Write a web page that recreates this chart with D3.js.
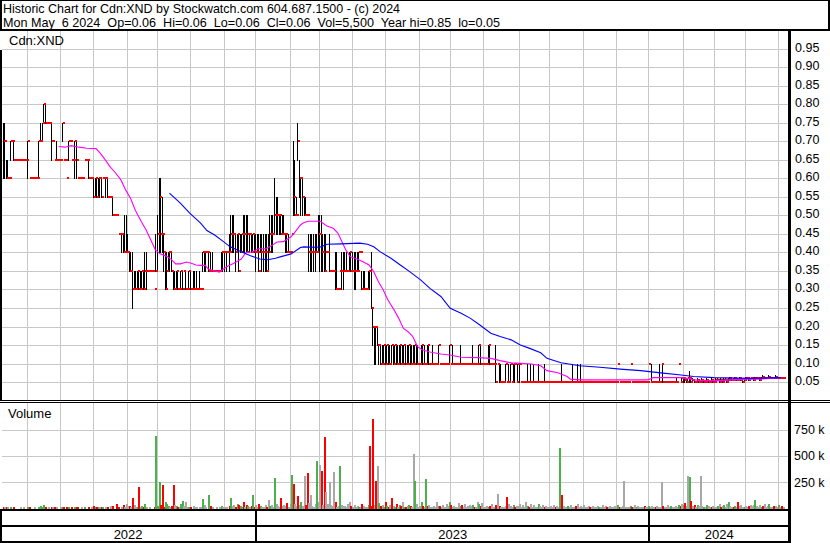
<!DOCTYPE html>
<html><head><meta charset="utf-8">
<script src="https://cdn.jsdelivr.net/npm/d3@7"></script>
<style>body{margin:0;background:#fff}svg{display:block;font-family:"Liberation Sans",Arial,sans-serif}text.pre{white-space:pre}</style>
</head><body><svg id="c" width="830" height="543"></svg>
<script>
const titleLine1 = "Historic Chart for Cdn:XND by Stockwatch.com 604.687.1500 - (c) 2024";
const titleLine2 = "Mon May  6 2024  Op=0.06  Hi=0.06  Lo=0.06  Cl=0.06  Vol=5,500  Year hi=0.85  lo=0.05";
const symbolLabel = "Cdn:XND";
const priceTicks = [0.05,0.10,0.15,0.20,0.25,0.30,0.35,0.40,0.45,0.50,0.55,0.60,0.65,0.70,0.75,0.80,0.85,0.90,0.95];
const volTicks = [250,500,750];
const years = ["2022","2023","2024"];
const yearStartIdx = [162,414];
const monthStartIdx = [16,37,58,80,99,120,142,162,184,203,224,245,267,287,308,331,350,372,393,414,436,456,476,497];

const high = [
.75,.75,.65,.65,.60,.70,.70,.70,.65,.65,
.65,.65,.65,.65,.65,.65,.70,.60,.60,.60,
.60,.60,.60,.70,.75,.75,.80,.80,.75,.75,
.75,.75,.70,.65,.70,.65,.65,.65,.75,.65,
.65,.60,.70,.70,.65,.65,.70,.70,.60,.60,
.60,.60,.65,.65,.65,.65,.60,.60,.60,.60,
.60,.60,.60,.60,.60,.60,.60,.60,.55,.55,
.55,.50,.50,.50,.45,.45,.45,.45,.50,.50,
.45,.40,.40,.40,.35,.35,.35,.35,.35,.35,
.35,.40,.40,.35,.35,.35,.35,.30,.45,.50,
.60,.60,.55,.45,.40,.40,.40,.40,.40,.35,
.35,.35,.35,.30,.35,.35,.35,.35,.30,.35,
.35,.30,.35,.35,.35,.30,.35,.30,.40,.40,
.40,.40,.40,.40,.40,.35,.35,.35,.35,.35,
.40,.40,.40,.40,.40,.45,.50,.50,.50,.45,
.45,.45,.45,.45,.50,.50,.50,.50,.45,.45,
.45,.45,.45,.45,.45,.45,.45,.45,.45,.45,
.45,.50,.50,.50,.60,.55,.55,.50,.50,.50,
.50,.45,.45,.45,.40,.45,.70,.65,.55,.75,
.65,.60,.60,.55,.55,.50,.45,.45,.45,.45,
.45,.45,.50,.50,.50,.45,.45,.45,.40,.45,
.35,.35,.35,.40,.40,.30,.35,.40,.40,.40,
.40,.35,.40,.40,.40,.40,.40,.40,.40,.40,
.35,.35,.35,.30,.35,.35,.40,.25,.20,.20,
.20,.15,.15,.15,.15,.15,.15,.15,.15,.15,
.15,.15,.15,.15,.15,.15,.15,.15,.15,.15,
.15,.15,.15,.15,.15,.15,.15,.10,.15,.15,
.15,.10,.15,.15,.10,.15,.10,.10,.10,.15,
.10,.10,.10,.10,.10,.10,.15,.10,.15,.10,
.10,.10,.10,.15,.10,.10,.10,.10,.10,.10,
.10,.15,.10,.10,.10,.15,.15,.10,.10,.10,
.10,.15,.15,.10,.10,.10,.15,.10,.10,.10,
.05,.05,.10,.05,.10,.10,.05,.10,.10,.05,
.10,.10,.05,.05,.05,.05,.10,.05,.10,.05,
.10,.05,.05,.10,.05,.05,.05,.10,.05,.05,
.05,.05,.05,.05,.05,.05,.05,.05,.10,.05,
.05,.05,.05,.05,.05,.10,.05,.05,.10,.05,
.10,.05,.05,.05,.05,.05,.05,.05,.05,.05,
.05,.05,.05,.05,.05,.05,.05,.05,.05,.05,
.05,.05,.05,.05,.10,.05,.05,.05,.05,.05,
.05,.05,.10,.05,.05,.05,.05,.05,.05,.05,
.05,.05,.05,.05,.10,.05,.10,.05,.05,.05,
.05,.10,.10,.10,.05,.05,.05,.05,.05,.05,
.05,.05,.06,.10,.05,.06,.065,.06,.055,.06,
.08,.06,.06,.055,.05,.06,.055,.05,.06,.055,
.055,.06,.055,.05,.06,.055,.05,.06,.06,.055,
.06,.055,.06,.06,.055,.06,.065,.06,.06,.065,
.06,.06,.065,.06,.055,.06,.065,.065,.06,.06,
.065,.06,.065,.065,.06,.06,.065,.07,.065,.06,
.065,.07,.065,.06,.065,.07,.065,.06,.065,.06,
.06];

const low = [
.60,.60,.60,.60,.60,.65,.70,.65,.65,.65,
.65,.65,.65,.65,.65,.65,.60,.60,.60,.60,
.60,.60,.60,.60,.70,.70,.75,.75,.75,.75,
.75,.65,.70,.65,.65,.65,.65,.65,.70,.65,
.65,.60,.65,.70,.65,.65,.60,.60,.60,.60,
.60,.60,.65,.65,.65,.60,.60,.60,.55,.55,
.55,.55,.55,.55,.60,.60,.55,.55,.55,.55,
.50,.50,.50,.50,.45,.45,.40,.40,.40,.40,
.40,.35,.35,.25,.30,.30,.30,.30,.30,.30,
.30,.30,.30,.35,.35,.35,.35,.30,.35,.35,
.40,.40,.40,.35,.30,.30,.35,.35,.35,.30,
.30,.30,.30,.30,.30,.30,.35,.30,.30,.30,
.30,.30,.30,.30,.30,.30,.30,.30,.35,.35,
.35,.40,.35,.35,.35,.35,.35,.35,.35,.35,
.35,.35,.35,.35,.40,.35,.40,.40,.40,.35,
.40,.35,.40,.40,.40,.40,.40,.40,.40,.40,
.40,.40,.35,.40,.35,.40,.35,.35,.35,.35,
.35,.40,.40,.40,.45,.45,.45,.45,.45,.45,
.45,.40,.40,.40,.40,.45,.50,.50,.50,.65,
.55,.50,.50,.50,.50,.50,.35,.35,.35,.35,
.35,.40,.40,.35,.35,.35,.35,.35,.40,.35,
.35,.35,.35,.30,.30,.30,.35,.30,.30,.35,
.35,.35,.35,.35,.35,.30,.30,.35,.35,.40,
.30,.30,.30,.30,.30,.30,.25,.15,.10,.10,
.15,.10,.10,.10,.10,.10,.10,.10,.10,.10,
.10,.10,.10,.10,.10,.10,.10,.10,.10,.10,
.10,.10,.10,.10,.10,.10,.10,.10,.10,.10,
.10,.10,.10,.10,.10,.10,.10,.10,.10,.10,
.10,.10,.10,.10,.10,.10,.10,.10,.10,.10,
.10,.10,.10,.10,.10,.10,.10,.10,.10,.10,
.10,.10,.10,.10,.10,.10,.10,.10,.10,.10,
.10,.10,.10,.10,.10,.10,.05,.10,.05,.05,
.05,.05,.05,.05,.05,.05,.05,.05,.05,.05,
.05,.05,.05,.05,.05,.05,.05,.05,.05,.05,
.05,.05,.05,.05,.05,.05,.05,.05,.05,.05,
.05,.05,.05,.05,.05,.05,.05,.05,.05,.05,
.05,.05,.05,.05,.05,.05,.05,.05,.05,.05,
.05,.05,.05,.05,.05,.05,.05,.05,.05,.05,
.05,.05,.05,.05,.05,.05,.05,.05,.05,.05,
.05,.05,.05,.05,.10,.05,.05,.05,.05,.05,
.05,.05,.10,.05,.05,.05,.05,.05,.05,.05,
.05,.05,.05,.05,.10,.05,.05,.05,.05,.05,
.05,.05,.10,.05,.05,.05,.05,.05,.05,.05,
.05,.05,.05,.10,.05,.05,.05,.05,.05,.055,
.05,.05,.05,.05,.05,.05,.05,.05,.05,.05,
.05,.05,.05,.05,.05,.05,.05,.05,.055,.05,
.05,.05,.055,.055,.05,.055,.055,.055,.055,.055,
.055,.055,.055,.055,.05,.055,.055,.06,.055,.06,
.06,.055,.055,.06,.06,.055,.06,.06,.06,.06,
.06,.06,.06,.06,.06,.06,.06,.06,.06,.06,
.06];

const close = [
.70,.70,.60,.60,.60,.70,.70,.65,.65,.65,
.65,.65,.65,.65,.65,.65,.70,.60,.60,.60,
.60,.60,.60,.70,.70,.75,.80,.75,.75,.75,
.75,.70,.70,.65,.65,.65,.65,.65,.75,.65,
.65,.60,.70,.70,.65,.65,.70,.65,.60,.60,
.60,.60,.65,.65,.65,.60,.60,.60,.55,.60,
.55,.60,.60,.55,.60,.60,.60,.55,.55,.55,
.50,.50,.50,.50,.45,.45,.45,.40,.40,.40,
.40,.35,.35,.30,.30,.30,.35,.30,.30,.35,
.30,.35,.35,.35,.35,.35,.35,.30,.35,.45,
.55,.45,.45,.40,.30,.35,.40,.40,.35,.30,
.30,.35,.30,.30,.35,.30,.35,.30,.30,.35,
.30,.30,.30,.30,.30,.30,.30,.30,.40,.40,
.40,.40,.35,.35,.35,.35,.35,.35,.35,.35,
.40,.40,.40,.40,.40,.40,.45,.45,.45,.40,
.45,.35,.40,.45,.45,.45,.40,.45,.45,.40,
.45,.40,.40,.40,.35,.40,.40,.40,.40,.35,
.40,.45,.45,.45,.50,.50,.50,.50,.45,.45,
.45,.45,.40,.40,.40,.45,.55,.50,.50,.70,
.60,.60,.55,.50,.50,.50,.40,.40,.40,.40,
.40,.40,.45,.45,.40,.40,.35,.40,.40,.35,
.35,.35,.35,.30,.30,.30,.35,.35,.35,.35,
.35,.35,.40,.35,.35,.35,.35,.35,.40,.40,
.30,.30,.30,.30,.35,.35,.25,.20,.20,.20,
.15,.15,.10,.10,.15,.10,.15,.10,.10,.15,
.10,.15,.10,.10,.15,.10,.10,.15,.10,.10,
.15,.10,.10,.10,.15,.10,.10,.10,.15,.10,
.10,.10,.15,.10,.10,.10,.10,.10,.10,.15,
.10,.10,.10,.10,.10,.10,.15,.10,.10,.10,
.10,.10,.10,.10,.10,.10,.10,.10,.10,.10,
.10,.10,.10,.10,.10,.15,.10,.10,.10,.10,
.10,.15,.10,.10,.10,.10,.05,.10,.05,.05,
.05,.05,.10,.05,.05,.10,.05,.10,.10,.05,
.10,.10,.05,.05,.05,.05,.05,.05,.05,.05,
.05,.05,.05,.05,.05,.05,.05,.05,.05,.05,
.05,.05,.05,.05,.05,.05,.05,.05,.05,.05,
.05,.05,.05,.05,.05,.05,.05,.05,.05,.05,
.05,.05,.05,.05,.05,.05,.05,.05,.05,.05,
.05,.05,.05,.05,.05,.05,.05,.05,.05,.05,
.05,.05,.05,.05,.10,.05,.05,.05,.05,.05,
.05,.05,.10,.05,.05,.05,.05,.05,.05,.05,
.05,.05,.05,.05,.10,.05,.05,.05,.05,.05,
.05,.05,.10,.05,.05,.05,.05,.05,.05,.05,
.05,.05,.05,.10,.05,.06,.06,.055,.05,.06,
.06,.05,.055,.05,.05,.055,.05,.05,.055,.05,
.05,.055,.05,.05,.055,.05,.05,.055,.055,.05,
.055,.05,.055,.055,.05,.055,.06,.055,.055,.06,
.055,.055,.06,.055,.05,.055,.06,.06,.055,.06,
.06,.055,.06,.06,.06,.055,.06,.065,.06,.06,
.06,.065,.06,.06,.06,.065,.06,.06,.06,.06,
.06];

// daily volume, thousands of shares
const volume = [
5,3,8,2,0,4,0,6,0,0,
0,3,0,2,0,0,12,4,0,0,
2,0,0,15,25,18,30,14,0,6,
0,10,3,8,6,0,0,4,12,5,
0,8,15,0,6,0,10,12,9,0,
3,0,5,0,0,12,0,2,25,8,
14,10,3,10,6,0,4,8,0,20,
22,0,0,45,10,0,8,30,12,40,
20,25,15,98,30,10,14,202,8,20,
12,40,10,0,6,0,0,15,684,20,
250,30,220,15,60,40,20,10,25,220,
30,20,10,15,40,75,20,60,8,15,
10,0,20,15,8,0,12,10,90,30,
15,0,126,20,10,0,0,5,0,8,
20,10,15,5,0,25,100,20,30,10,
40,30,20,15,60,10,30,20,15,20,
126,15,30,10,40,20,15,8,30,10,
80,25,30,10,290,40,20,15,100,25,
30,20,50,15,40,316,230,40,20,120,
30,60,20,310,30,335,50,130,20,15,
40,449,60,411,354,30,677,158,40,253,
30,20,348,60,15,20,405,30,25,20,
15,40,60,20,10,30,15,25,10,8,
40,20,15,10,30,592,20,848,30,259,
402,50,20,30,15,60,20,10,30,100,
20,15,40,10,30,20,60,15,10,20,
30,20,15,513,259,40,10,25,60,20,
15,278,20,30,10,15,20,10,60,25,
20,10,30,15,40,20,60,30,10,25,
10,15,50,20,30,10,40,15,20,30,
20,30,15,10,60,40,20,50,15,10,
25,15,20,40,10,15,30,140,20,10,
15,10,20,110,40,20,10,30,15,20,
20,40,15,30,10,60,20,15,40,10,
30,15,10,40,20,15,30,10,20,15,
10,20,15,30,10,20,15,575,130,20,
15,10,20,10,30,15,10,20,40,10,
20,10,30,15,10,20,15,10,25,10,
10,20,15,10,30,10,20,15,10,25,
10,15,20,10,30,15,10,20,260,10,
15,10,20,10,15,30,10,20,10,15,
10,20,15,10,25,10,20,15,10,20,
15,10,250,20,10,15,30,10,20,15,
10,20,15,30,20,40,30,50,20,310,
300,70,20,30,15,30,20,310,20,15,
10,30,20,15,10,20,10,15,20,40,
10,20,30,15,40,60,20,10,15,20,
15,60,20,30,10,15,20,10,25,30,
20,30,80,20,10,30,15,20,40,15,
20,40,15,10,25,20,10,30,15,20,
6];

// day's direction: 1 up, -1 down, 0 unchanged
const volDir = [
-1,0,-1,0,0,1,0,-1,0,0,
0,0,0,0,0,0,1,-1,0,0,
0,0,0,1,1,1,1,-1,0,0,
0,-1,0,-1,0,0,0,0,1,-1,
0,-1,1,0,-1,0,1,-1,-1,0,
0,0,1,0,0,-1,0,0,-1,1,
-1,1,0,-1,1,0,0,-1,0,0,
-1,0,0,-1,-1,0,0,-1,0,0,
0,-1,0,-1,0,0,1,-1,0,1,
-1,1,0,0,0,0,0,-1,1,1,
1,-1,-1,-1,1,1,1,0,-1,-1,
0,1,-1,0,1,1,0,0,0,1,
-1,0,0,0,0,0,0,0,1,0,
0,0,1,-1,0,0,0,0,0,0,
1,0,0,0,0,-1,1,0,0,-1,
1,-1,1,1,-1,0,-1,1,0,-1,
1,-1,0,0,-1,1,0,0,0,-1,
0,1,0,0,1,0,0,0,-1,0,
0,0,-1,0,0,1,-1,0,0,-1,
0,1,0,0,-1,-1,0,0,0,0,
0,1,0,0,-1,0,-1,0,0,0,
0,0,0,-1,0,0,1,0,0,0,
0,0,0,-1,0,0,0,0,1,0,
-1,0,0,0,1,-1,-1,-1,0,-1,
0,1,-1,0,1,-1,1,-1,0,-1,
0,1,-1,0,1,-1,0,1,-1,0,
1,-1,0,0,1,0,0,0,1,-1,
0,1,-1,0,0,0,0,0,0,1,
-1,0,0,0,0,0,1,-1,0,0,
0,0,0,1,-1,0,0,0,0,0,
0,1,-1,0,0,1,-1,0,0,0,
0,1,-1,0,0,0,-1,0,-1,0,
0,0,0,-1,0,0,0,1,-1,0,
0,0,0,0,0,0,1,-1,0,0,
0,0,0,1,0,0,0,-1,0,0,
0,0,0,0,-1,0,0,1,-1,0,
0,0,1,0,0,0,0,-1,0,0,
0,0,0,0,0,0,-1,0,0,0,
0,0,1,0,0,0,0,-1,0,0,
0,0,0,0,1,-1,0,0,0,0,
0,0,1,-1,0,0,1,0,0,0,
0,-1,0,0,1,0,0,0,-1,0,
0,0,0,-1,0,0,0,0,1,0,
0,0,0,1,-1,0,1,-1,0,0,
1,-1,0,-1,0,1,0,0,0,1,
0,1,0,0,-1,0,0,0,1,0,
-1,0,1,0,0,1,0,0,-1,1,
0,-1,0,0,0,1,0,0,-1,0,
0,0,1,0,0,0,1,-1,0,0,
0,1,0,0,-1,0,0,1,0,-1,
0];

// moving averages (day index, price)
const maShortIdx = [36,40,44,49,54,60,63,66,69,72,76,79,82,85,89,92,95,98,101,105,108,111,114,118,121,124,127,130,132,136,139,141,144,148,153,156,160,164,169,172,176,180,185,187,191,193,196,204,205,208,212,215,217,220,223,228,231,235,238,241,244,247,251,254,257,260,263,266,269,274,281,287,294,305,313,319,326,332,339,345,349,356,362,364,371,413,415,417,435,439,443,452,460,467,477,484,492,499];
const maShortVal = [.686,.684,.688,.684,.681,.680,.666,.649,.631,.617,.595,.568,.547,.515,.483,.461,.434,.407,.396,.390,.382,.369,.369,.374,.371,.366,.365,.365,.355,.350,.347,.353,.362,.370,.382,.399,.401,.410,.410,.417,.428,.429,.442,.452,.474,.480,.484,.484,.480,.471,.465,.452,.434,.407,.388,.381,.375,.366,.348,.321,.299,.272,.245,.222,.195,.186,.173,.146,.137,.131,.126,.123,.117,.116,.114,.108,.102,.101,.099,.094,.081,.075,.065,.058,.056,.056,.058,.062,.062,.060,.056,.054,.054,.056,.058,.058,.060,.062];
const maLongIdx = [107,114,120,127,131,136,141,146,153,159,165,170,175,178,185,191,193,201,204,208,217,229,234,238,242,249,255,261,268,274,281,287,294,300,306,313,319,326,332,338,345,349,358,370,383,396,409,422,435,443,456,478,499];
const maLongVal = [.560,.533,.506,.479,.459,.447,.431,.415,.402,.391,.382,.380,.384,.388,.396,.413,.415,.414,.415,.422,.423,.425,.422,.415,.402,.384,.366,.348,.326,.303,.281,.249,.236,.222,.204,.182,.173,.164,.150,.141,.129,.114,.102,.094,.090,.085,.081,.075,.069,.065,.062,.060,.062];

// ---------- layout ----------
const PL = 2, PR = 788, PT = 31, PB = 399.5, VT = 403, VB = 509;
const svg = d3.select("#c");
const x = d3.scaleLinear().domain([0, 500]).range([2.5, 782.5]);
const y = d3.scaleLinear().domain([0.05, 0.95]).range([382.1, 48.6]);
const yv = d3.scaleLinear().domain([0, 750]).range([508.5, 429.5]);
const px = v => Math.round(v) + 0.5;

svg.append("rect").attr("width", 830).attr("height", 543).attr("fill", "#fff");

// grid
const grid = svg.append("g").attr("stroke", "#c8c8c8").attr("stroke-width", 1).attr("shape-rendering", "crispEdges");
priceTicks.forEach(p => grid.append("line").attr("x1", PL).attr("x2", PR).attr("y1", px(y(p))).attr("y2", px(y(p))));
volTicks.forEach(v => grid.append("line").attr("x1", PL).attr("x2", PR).attr("y1", px(yv(v))).attr("y2", px(yv(v))));
monthStartIdx.forEach(i => {
  grid.append("line").attr("x1", px(x(i))).attr("x2", px(x(i))).attr("y1", PT).attr("y2", PB);
  grid.append("line").attr("x1", px(x(i))).attr("x2", px(x(i))).attr("y1", VT).attr("y2", VB);
});

// price bars
const idx = d3.range(close.length);
svg.append("g").selectAll("line").data(idx.filter(i => high[i] > low[i])).join("line")
  .attr("x1", i => px(x(i))).attr("x2", i => px(x(i)))
  .attr("y1", i => Math.round(y(high[i]))).attr("y2", i => Math.round(y(low[i])) + 1)
  .attr("stroke", "#000").attr("stroke-width", 1).attr("shape-rendering", "crispEdges");
svg.append("g").selectAll("rect").data(idx).join("rect")
  .attr("x", i => Math.round(x(i)) + 1).attr("width", 2)
  .attr("y", i => Math.round(y(close[i])) - 1).attr("height", 2)
  .attr("fill", "#ff0000").attr("shape-rendering", "crispEdges");

// moving averages
const lineGen = d3.line().x(d => x(d[0])).y(d => y(d[1]));
svg.append("path").datum(maShortIdx.map((d, k) => [d, maShortVal[k]])).attr("d", lineGen)
  .attr("fill", "none").attr("stroke", "#ff00ff").attr("stroke-width", 1.1);
svg.append("path").datum(maLongIdx.map((d, k) => [d, maLongVal[k]])).attr("d", lineGen)
  .attr("fill", "none").attr("stroke", "#0000ff").attr("stroke-width", 1.1);

// volume bars
const volColor = d => d > 0 ? "#4cb04c" : d < 0 ? "#ff0000" : "#a8a8a8";
svg.append("g").selectAll("rect").data(idx.filter(i => volume[i] > 0)).join("rect")
  .attr("x", i => Math.round(x(i))).attr("width", 2)
  .attr("y", i => Math.min(Math.round(yv(volume[i])), 507))
  .attr("height", i => 509 - Math.min(Math.round(yv(volume[i])), 507))
  .attr("fill", i => volColor(volDir[i])).attr("shape-rendering", "crispEdges");

// frames
const blk = svg.append("g").attr("fill", "#000").attr("shape-rendering", "crispEdges");
blk.append("rect").attr("x", 0).attr("y", 0).attr("width", 830).attr("height", 1);
blk.append("rect").attr("x", 0).attr("y", 0).attr("width", 2).attr("height", 31);
blk.append("rect").attr("x", 828).attr("y", 0).attr("width", 2).attr("height", 31);
blk.append("rect").attr("x", 0).attr("y", 29).attr("width", 830).attr("height", 2);
blk.append("rect").attr("x", 0).attr("y", 50).attr("width", 2).attr("height", 350);
blk.append("rect").attr("x", 788).attr("y", 31).attr("width", 3).attr("height", 512);
blk.append("rect").attr("x", 0).attr("y", 400).attr("width", 830).attr("height", 1);
blk.append("rect").attr("x", 0).attr("y", 402).attr("width", 830).attr("height", 1);
blk.append("rect").attr("x", 0).attr("y", 509).attr("width", 790).attr("height", 2);
blk.append("rect").attr("x", 0).attr("y", 525).attr("width", 790).attr("height", 2);
blk.append("rect").attr("x", 0).attr("y", 541).attr("width", 790).attr("height", 2);
blk.append("rect").attr("x", 0).attr("y", 509).attr("width", 2).attr("height", 34);
yearStartIdx.forEach(i => blk.append("rect").attr("x", Math.round(x(i))).attr("y", 510).attr("width", 2).attr("height", 32));

// texts
const txt = svg.append("g").attr("fill", "#000");
txt.append("text").attr("class", "pre").attr("xml:space", "preserve").attr("x", 3).attr("y", 13).attr("font-size", 13.5)
  .attr("textLength", 397).attr("lengthAdjust", "spacingAndGlyphs").text(titleLine1);
txt.append("text").attr("class", "pre").attr("xml:space", "preserve").attr("x", 3).attr("y", 27).attr("font-size", 13.5)
  .attr("textLength", 497).attr("lengthAdjust", "spacingAndGlyphs").text(titleLine2);
txt.append("text").attr("x", 9).attr("y", 45).attr("font-size", 13).text(symbolLabel);
txt.append("text").attr("x", 8).attr("y", 418).attr("font-size", 13).text("Volume");

// price axis
const ax = svg.append("g").attr("transform", "translate(792,0)")
  .call(d3.axisRight(y).tickValues(priceTicks).tickSize(0).tickPadding(3).tickFormat(d3.format(".2f")));
ax.select(".domain").remove();
ax.selectAll("text").attr("font-size", 12.5).attr("font-family", "Liberation Sans, Arial, sans-serif").attr("fill", "#000").attr("dy", "0.2em");

// volume axis
const vax = svg.append("g").attr("transform", "translate(791,0)")
  .call(d3.axisRight(yv).tickValues(volTicks).tickSize(0).tickPadding(3).tickFormat(d => d + " k"));
vax.select(".domain").remove();
vax.selectAll("text").attr("font-size", 12.5).attr("font-family", "Liberation Sans, Arial, sans-serif").attr("fill", "#000").attr("dy", "0.32em");

// year labels
const bounds = [0, x(yearStartIdx[0]) + 1, x(yearStartIdx[1]) + 1, 789];
years.forEach((yr, k) => svg.append("text").attr("x", (bounds[k] + bounds[k + 1]) / 2).attr("y", 539)
  .attr("text-anchor", "middle").attr("font-size", 13).attr("fill", "#000").text(yr));
</script></body></html>
